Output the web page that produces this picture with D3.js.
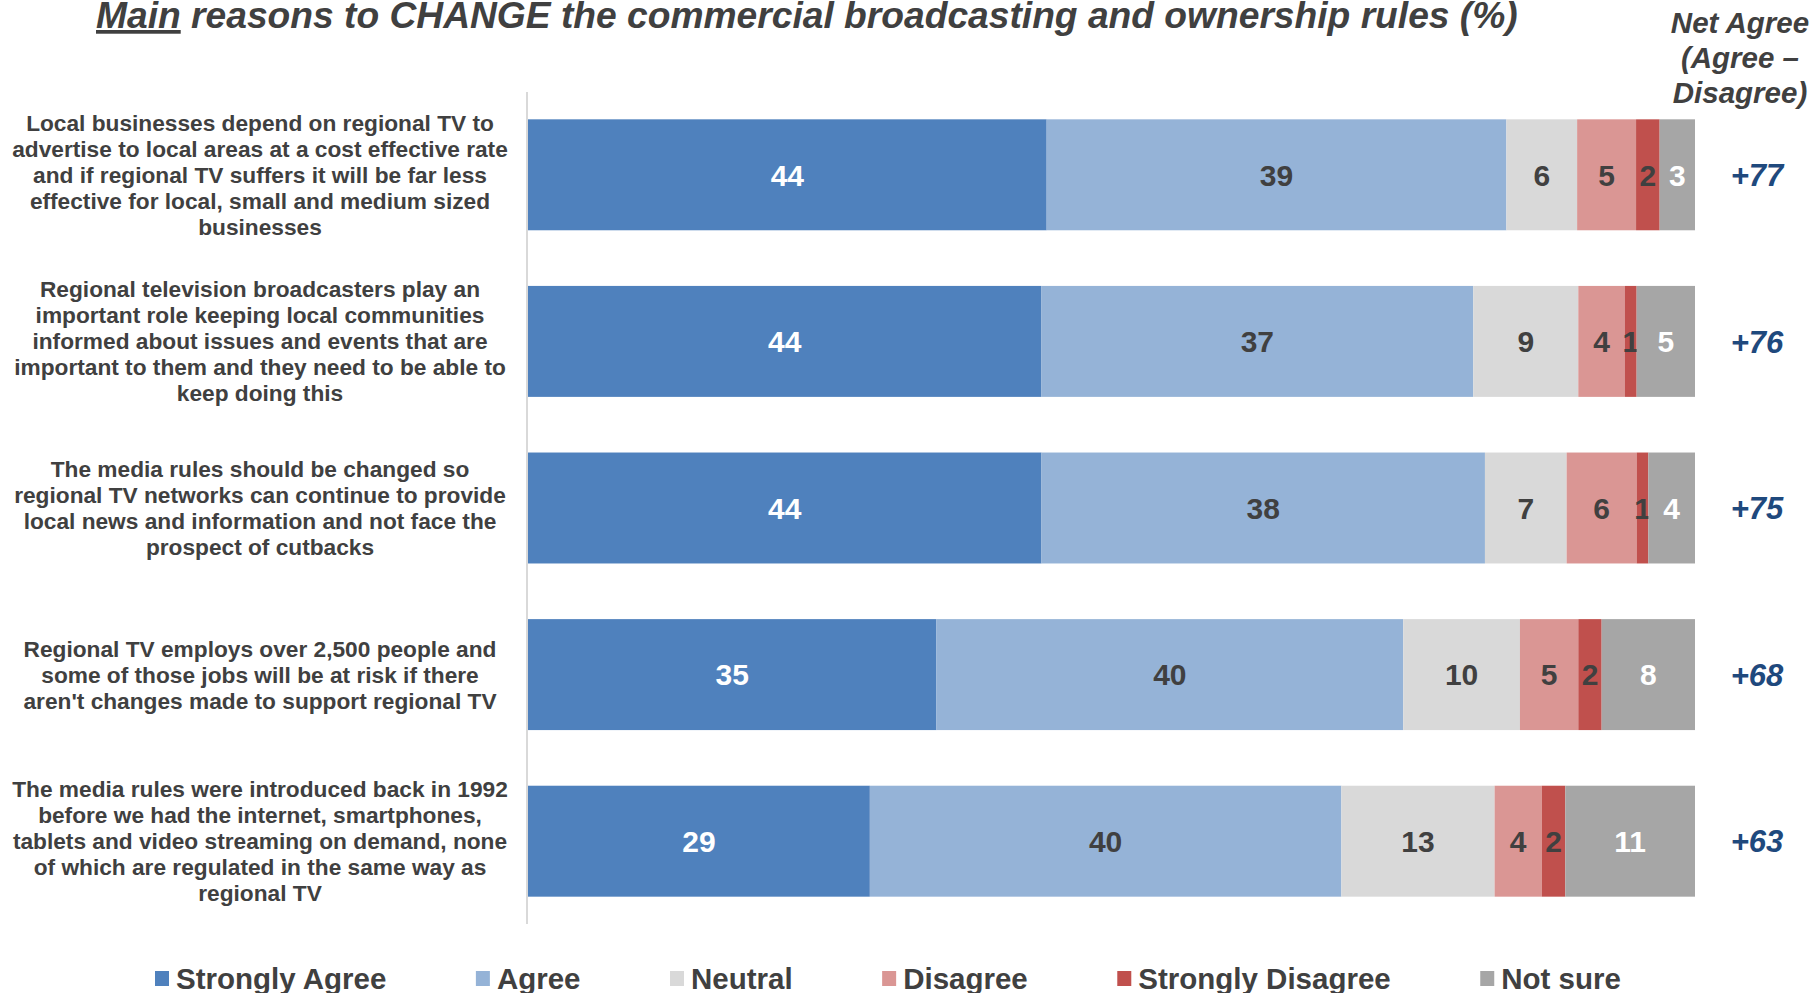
<!DOCTYPE html>
<html>
<head>
<meta charset="utf-8">
<script src="https://cdn.jsdelivr.net/npm/d3@7"></script>
<style>
  html, body { margin: 0; padding: 0; background: #fff; }
  svg { display: block; font-family: "Liberation Sans", Arial, sans-serif; }
</style>
</head>
<body>
<svg id="chart" width="1812" height="993"></svg>
<script>
// Statements (one per bar), each split into its display lines
const statements = [
  ["Local businesses depend on regional TV to", "advertise to local areas at a cost effective rate", "and if regional TV suffers it will be far less", "effective for local, small and medium sized", "businesses"],
  ["Regional television broadcasters play an", "important role keeping local communities", "informed about issues and events that are", "important to them and they need to be able to", "keep doing this"],
  ["The media rules should be changed so", "regional TV networks can continue to provide", "local news and information and not face the", "prospect of cutbacks"],
  ["Regional TV employs over 2,500 people and", "some of those jobs will be at risk if there", "aren't changes made to support regional TV"],
  ["The media rules were introduced back in 1992", "before we had the internet, smartphones,", "tablets and video streaming on demand, none", "of which are regulated in the same way as", "regional TV"]
];

const responseCategories = ["Strongly Agree", "Agree", "Neutral", "Disagree", "Strongly Disagree", "Not sure"];

// Percentages per response, one value per statement
const stronglyAgree    = [44, 44, 44, 35, 29];
const agree            = [39, 37, 38, 40, 40];
const neutral          = [6, 9, 7, 10, 13];
const disagree         = [5, 4, 6, 5, 4];
const stronglyDisagree = [2, 1, 1, 2, 2];
const notSure          = [3, 5, 4, 8, 11];

const netAgree = ["+77", "+76", "+75", "+68", "+63"];

const colors = ["#4F81BD", "#95B3D7", "#D9D9D9", "#DA9694", "#C0504D", "#A6A6A6"];
const valueTextColors = ["#FFFFFF", "#404040", "#404040", "#404040", "#404040", "#FFFFFF"];

const series = [stronglyAgree, agree, neutral, disagree, stronglyDisagree, notSure];
const rows = statements.map((s, i) => {
  const r = { idx: i };
  responseCategories.forEach((c, k) => { r[c] = series[k][i]; });
  return r;
});

const svg = d3.select("#chart");
const textColor = "#404040";

// Layout
const plotLeft = 528, plotRight = 1695, plotTop = 92, plotBottom = 924;

const x = d3.scaleLinear().domain([0, 1]).range([plotLeft, plotRight]);
const y = d3.scaleBand()
  .domain(rows.map(d => d.idx))
  .range([plotTop, plotBottom])
  .paddingInner(0.334)
  .paddingOuter(0.164);

// 100% stacked layout, each bar normalised to its own total
const stack = d3.stack().keys(responseCategories).offset(d3.stackOffsetExpand);
const stacked = stack(rows);

// Title
const title = svg.append("text")
  .attr("x", 96).attr("y", 28)
  .attr("font-size", 37.2).attr("font-weight", "bold").attr("font-style", "italic")
  .attr("fill", textColor);
title.append("tspan").attr("text-decoration", "underline").text("Main");
title.append("tspan").text(" reasons to CHANGE the commercial broadcasting and ownership rules (%)");

// Net agree header
const netX = 1757;
const header = svg.append("text")
  .attr("text-anchor", "middle")
  .attr("font-size", 29.5).attr("font-weight", "bold").attr("font-style", "italic")
  .attr("fill", textColor);
["Net Agree", "(Agree \u2013", "Disagree)"].forEach((t, i) => {
  header.append("tspan").attr("x", 1740).attr("y", 33 + i * 35).text(t);
});

// Category axis line
svg.append("line")
  .attr("x1", plotLeft - 1).attr("x2", plotLeft - 1)
  .attr("y1", plotTop).attr("y2", plotBottom)
  .attr("stroke", "#D9D9D9").attr("stroke-width", 2);

// Bars
const layers = svg.append("g").selectAll("g")
  .data(stacked)
  .join("g")
  .attr("fill", (d, k) => colors[k]);

layers.selectAll("rect")
  .data(d => d)
  .join("rect")
  .attr("x", d => x(d[0]))
  .attr("y", d => y(d.data.idx))
  .attr("width", d => x(d[1]) - x(d[0]))
  .attr("height", y.bandwidth());

// Segment value labels
layers.each(function (layer, k) {
  d3.select(this).selectAll("text")
    .data(layer)
    .join("text")
    .attr("x", d => (x(d[0]) + x(d[1])) / 2)
    .attr("y", d => y(d.data.idx) + y.bandwidth() / 2)
    .attr("dy", "0.36em")
    .attr("text-anchor", "middle")
    .attr("font-size", 30).attr("font-weight", "bold")
    .attr("fill", valueTextColors[k])
    .text(d => d.data[layer.key]);
});

// Statement labels
const labelG = svg.append("g");
statements.forEach((lines, i) => {
  const cy = y(i) + y.bandwidth() / 2;
  const lh = 26;
  const t = labelG.append("text")
    .attr("text-anchor", "middle")
    .attr("font-size", 22.7).attr("font-weight", "bold")
    .attr("fill", textColor);
  lines.forEach((ln, j) => {
    t.append("tspan")
      .attr("x", 260)
      .attr("y", cy + (j - (lines.length - 1) / 2) * lh + 8)
      .text(ln);
  });
});

// Net agree values
svg.append("g").selectAll("text")
  .data(netAgree)
  .join("text")
  .attr("x", netX)
  .attr("y", (d, i) => y(i) + y.bandwidth() / 2)
  .attr("dy", "0.36em")
  .attr("text-anchor", "middle")
  .attr("font-size", 31).attr("font-weight", "bold").attr("font-style", "italic")
  .attr("fill", "#1F497D")
  .text(d => d);

// Legend
const legend = svg.append("g");
let lx = 155;
responseCategories.forEach((c, k) => {
  legend.append("rect")
    .attr("x", lx).attr("y", 971).attr("width", 14).attr("height", 15)
    .attr("fill", colors[k]);
  const t = legend.append("text")
    .attr("x", lx + 21).attr("y", 989)
    .attr("font-size", 29.5).attr("font-weight", "bold")
    .attr("fill", textColor)
    .text(c);
  lx += 21 + t.node().getComputedTextLength() + 89.5;
});
</script>
</body>
</html>
